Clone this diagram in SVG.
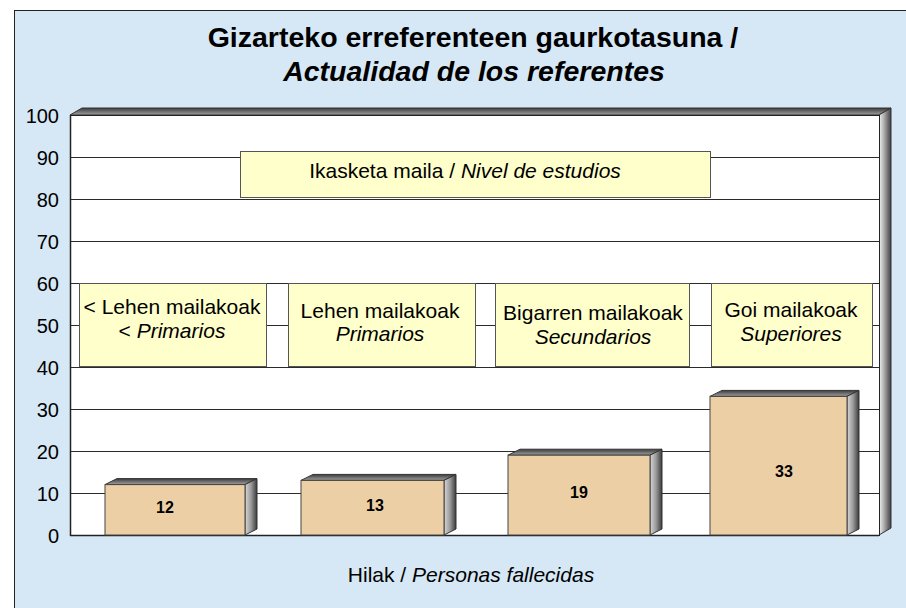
<svg xmlns="http://www.w3.org/2000/svg" width="906" height="608" viewBox="0 0 906 608">
  <defs>
    <linearGradient id="sideGrad" x1="0" y1="0" x2="1" y2="0">
      <stop offset="0" stop-color="#d8d8d8"/>
      <stop offset="0.5" stop-color="#9a9a9a"/>
      <stop offset="1" stop-color="#3a3a3a"/>
    </linearGradient>
    <linearGradient id="topGrad" x1="0" y1="1" x2="0" y2="0">
      <stop offset="0" stop-color="#a0a0a0"/>
      <stop offset="1" stop-color="#3c3c3c"/>
    </linearGradient>
    <linearGradient id="wallGrad" x1="0" y1="0" x2="1" y2="0">
      <stop offset="0" stop-color="#f4f4f4"/>
      <stop offset="0.4" stop-color="#b0b0b0"/>
      <stop offset="1" stop-color="#404040"/>
    </linearGradient>
    <style>
      text { font-family: "Liberation Sans", Arial, sans-serif; fill: #000; }
      .title { font-size: 28.5px; font-weight: bold; text-anchor: middle; }
      .ytick { font-size: 20px; text-anchor: end; }
      .lbl { font-size: 21px; text-anchor: middle; }
      .val { font-size: 16px; font-weight: bold; text-anchor: middle; }
      .it { font-style: italic; }
      .grid { stroke: #2a2a2a; stroke-width: 1; }
      .box { fill: #ffffcc; stroke: #555; stroke-width: 1; }
      .bar { fill: #edcfa6; stroke: #444; stroke-width: 1; }
      .side { fill: url(#sideGrad); stroke: #333; stroke-width: 1; }
      .top { fill: url(#topGrad); stroke: #333; stroke-width: 1; }
    </style>
  </defs>

  <rect x="0" y="0" width="906" height="608" fill="#ffffff"/>
  <rect id="frame" x="14.5" y="10.5" width="900" height="610" fill="#d6e8f5" stroke="#222" stroke-width="1"/>

  <g id="title">
    <text class="title" x="473" y="47">Gizarteko erreferenteen gaurkotasuna /</text>
    <text class="title it" x="474" y="81">Actualidad de los referentes</text>
  </g>

  <g id="plot">
    <polygon points="70,115 82,108 891,108 879,115" fill="url(#topGrad)" stroke="#333" stroke-width="1"/>
    <polygon points="879,115 891,108 891,528 879,535" fill="url(#wallGrad)" stroke="#333" stroke-width="1"/>
    <rect x="70.5" y="115.5" width="809" height="420" fill="#ffffff" stroke="#222" stroke-width="1"/>
  </g>

  <g id="gridlines">
    <line class="grid" x1="70" y1="493.5" x2="879" y2="493.5"/>
    <line class="grid" x1="70" y1="451.5" x2="879" y2="451.5"/>
    <line class="grid" x1="70" y1="409.5" x2="879" y2="409.5"/>
    <line class="grid" x1="70" y1="367.5" x2="879" y2="367.5"/>
    <line class="grid" x1="70" y1="325.5" x2="879" y2="325.5"/>
    <line class="grid" x1="70" y1="283.5" x2="879" y2="283.5"/>
    <line class="grid" x1="70" y1="241.5" x2="879" y2="241.5"/>
    <line class="grid" x1="70" y1="199.5" x2="879" y2="199.5"/>
    <line class="grid" x1="70" y1="157.5" x2="879" y2="157.5"/>
    <line x1="70.5" y1="115" x2="70.5" y2="536" stroke="#222" stroke-width="1.5"/>
    <line x1="70" y1="535.5" x2="879" y2="535.5" stroke="#222" stroke-width="1.5"/>
  </g>

  <g id="yaxis">
    <text class="ytick" x="59" y="123">100</text>
    <text class="ytick" x="59" y="165">90</text>
    <text class="ytick" x="59" y="207">80</text>
    <text class="ytick" x="59" y="249">70</text>
    <text class="ytick" x="59" y="291">60</text>
    <text class="ytick" x="59" y="333">50</text>
    <text class="ytick" x="59" y="375">40</text>
    <text class="ytick" x="59" y="417">30</text>
    <text class="ytick" x="59" y="459">20</text>
    <text class="ytick" x="59" y="501">10</text>
    <text class="ytick" x="59" y="543">0</text>
  </g>

  <g id="bar1">
    <polygon class="top" points="105,484.6 117,478.6 257,478.6 245,484.6"/>
    <polygon class="side" points="245,484.6 257,478.6 257,529 245,535"/>
    <rect class="bar" x="105" y="484.6" width="140" height="50.4"/>
    <text class="val" x="165" y="513">12</text>
  </g>
  <g id="bar2">
    <polygon class="top" points="301,480.4 313,474.4 456,474.4 444,480.4"/>
    <polygon class="side" points="444,480.4 456,474.4 456,529 444,535"/>
    <rect class="bar" x="301" y="480.4" width="143" height="54.6"/>
    <text class="val" x="375" y="511">13</text>
  </g>
  <g id="bar3">
    <polygon class="top" points="508,455.2 520,449.2 662,449.2 650,455.2"/>
    <polygon class="side" points="650,455.2 662,449.2 662,529 650,535"/>
    <rect class="bar" x="508" y="455.2" width="142" height="79.8"/>
    <text class="val" x="579" y="498">19</text>
  </g>
  <g id="bar4">
    <polygon class="top" points="710,396.4 722,390.4 859,390.4 847,396.4"/>
    <polygon class="side" points="847,396.4 859,390.4 859,529 847,535"/>
    <rect class="bar" x="710" y="396.4" width="137" height="138.6"/>
    <text class="val" x="784" y="477">33</text>
  </g>

  <g id="legend-title">
    <rect class="box" x="240.5" y="151.5" width="470" height="46"/>
    <text class="lbl" x="465" y="178">Ikasketa maila / <tspan class="it">Nivel de estudios</tspan></text>
  </g>

  <g id="cat1">
    <rect class="box" x="79.5" y="283.5" width="187" height="83"/>
    <text class="lbl" x="172" y="314">&lt; Lehen mailakoak</text>
    <text class="lbl" x="172" y="338">&lt; <tspan class="it">Primarios</tspan></text>
  </g>
  <g id="cat2">
    <rect class="box" x="288.5" y="283.5" width="187" height="83"/>
    <text class="lbl" x="380" y="318">Lehen mailakoak</text>
    <text class="lbl it" x="380" y="341">Primarios</text>
  </g>
  <g id="cat3">
    <rect class="box" x="495.5" y="283.5" width="194" height="83"/>
    <text class="lbl" x="593" y="320">Bigarren mailakoak</text>
    <text class="lbl it" x="593" y="344">Secundarios</text>
  </g>
  <g id="cat4">
    <rect class="box" x="711.5" y="283.5" width="161" height="83"/>
    <text class="lbl" x="791" y="317">Goi mailakoak</text>
    <text class="lbl it" x="791" y="341">Superiores</text>
  </g>

  <g id="xaxis-label">
    <text class="lbl" x="471" y="582">Hilak / <tspan class="it">Personas fallecidas</tspan></text>
  </g>
</svg>
